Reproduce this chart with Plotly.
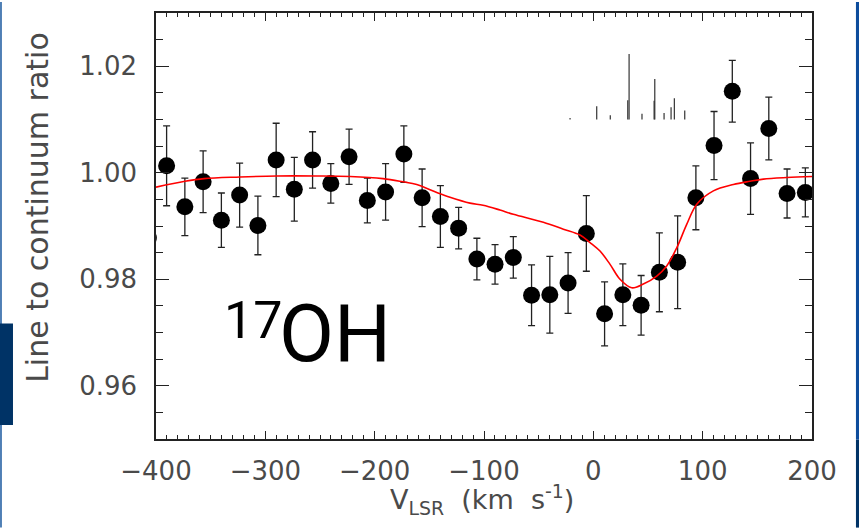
import plotly.graph_objects as go

# ---- data ----
velocity = [-407.0, -390.3, -373.6, -356.9, -340.2, -323.5, -306.8, -290.1, -273.5, -256.8,
            -240.1, -223.4, -206.7, -190.0, -173.3, -156.6, -139.9, -123.2, -106.5, -89.9,
            -73.2, -56.5, -39.8, -23.1, -6.4, 10.3, 27.0, 43.7, 60.4, 77.1,
            93.8, 110.4, 127.1, 143.8, 160.5, 177.2, 193.9]
ratio = [0.9878, 1.0013, 0.9936, 0.9983, 0.9911, 0.9958, 0.9901, 1.0024, 0.9969, 1.0024,
         0.9980, 1.0030, 0.9948, 0.9964, 1.0035, 0.9953, 0.9918, 0.9896, 0.9838, 0.9828,
         0.9841, 0.9770, 0.9771, 0.9793, 0.9886, 0.9735, 0.9771, 0.9751, 0.9813, 0.9832,
         0.9953, 1.0051, 1.0153, 0.9989, 1.0083, 0.9961, 0.9963]
ratio_err = [0.0060, 0.0075, 0.0054, 0.0058, 0.0051, 0.0060, 0.0055, 0.0069, 0.0060, 0.0053,
             0.0037, 0.0052, 0.0042, 0.0053, 0.0053, 0.0054, 0.0058, 0.0039, 0.0039, 0.0037,
             0.0039, 0.0057, 0.0072, 0.0057, 0.0071, 0.0060, 0.0058, 0.0056, 0.0074, 0.0087,
             0.0060, 0.0064, 0.0058, 0.0067, 0.0059, 0.0046, 0.0046]

model_velocity = [-400, -373.5, -356.1, -323.2, -289.6, -253.0, -222.5, -192.4, -174.1, -161.5,
                  -143.2, -131.1, -112.8, -100.9, -85.4, -73.2, -45.7, -27.4, -12.2, -3.0,
                  6.1, 15.3, 24.4, 35.1, 45.7, 58.0, 67.1, 76.3, 85.4, 94.6,
                  109.8, 128.1, 143.3, 155.5, 176.9, 200]
model_ratio = [0.9973, 0.9984, 0.9989, 0.9992, 0.9994, 0.9994, 0.9993, 0.9989, 0.9983, 0.9978,
               0.9963, 0.9954, 0.9943, 0.9939, 0.9930, 0.9922, 0.9907, 0.9894, 0.9883, 0.9869,
               0.9853, 0.9828, 0.9800, 0.9784, 0.9791, 0.9806, 0.9825, 0.9859, 0.9903, 0.9941,
               0.9966, 0.9978, 0.9984, 0.9988, 0.9991, 0.9993]

# hyperfine components (stick spectrum)
hfs_velocity = [-21.3, 3.1, 15.5, 31.5, 32.7, 44.5, 55.6, 56.2, 64.7, 71.1, 74.1, 83.6]
hfs_top = [1.0103, 1.0125, 1.0108, 1.0136, 1.0223, 1.0111, 1.0135, 1.0176, 1.0112, 1.0123, 1.0140, 1.0117]
hfs_base = 1.0100

x_ticks = [-400, -300, -200, -100, 0, 100, 200]
y_ticks = [0.96, 0.98, 1.00, 1.02]

# ---- build figure ----
stick_x, stick_y = [], []
for v, t in zip(hfs_velocity, hfs_top):
    stick_x += [v, v, None]
    stick_y += [hfs_base, t, None]

fig = go.Figure()
fig.add_trace(go.Scatter(x=stick_x, y=stick_y, mode="lines",
                         line=dict(color="#333333", width=1.2), hoverinfo="skip"))
fig.add_trace(go.Scatter(x=velocity, y=ratio, mode="markers",
                         marker=dict(color="black", size=17, line=dict(width=0)),
                         error_y=dict(type="data", array=ratio_err, color="#222222",
                                      thickness=1.3, width=3.5)))
fig.add_trace(go.Scatter(x=model_velocity, y=model_ratio, mode="lines",
                         line=dict(color="#ff0000", width=1.6, shape="spline")))

font_family = "DejaVu Sans"
x_tick_font = dict(family=font_family, size=26, color="#4a4a4a")
y_tick_font = dict(family=font_family, size=26, color="#4a4a4a")
fig.update_xaxes(range=[-400, 200], tickvals=x_ticks, ticks="inside", ticklen=8, tickwidth=1.3,
                 tickcolor="#222", showline=True, linecolor="#222", linewidth=1.5, mirror="ticks",
                 showgrid=False, zeroline=False, tickfont=x_tick_font, ticklabelstandoff=8,
                 minor=dict(dtick=10, ticks="inside", ticklen=4.5, tickwidth=1.1, tickcolor="#222",
                            showgrid=False))
fig.update_yaxes(range=[0.95, 1.03], tickvals=y_ticks, tickformat=".2f", ticks="inside", ticklen=13,
                 tickwidth=1.3, tickcolor="#222", showline=True, linecolor="#222", linewidth=1.5,
                 mirror="ticks", showgrid=False, zeroline=False, tickfont=y_tick_font,
                 ticklabelstandoff=12,
                 minor=dict(dtick=0.005, tick0=0.95, ticks="inside", ticklen=7, tickwidth=1.1,
                            tickcolor="#222", showgrid=False))

fig.add_annotation(text="V<sub>LSR</sub>&nbsp;&nbsp;(km&nbsp;&nbsp;s<sup>-1</sup>)",
                   xref="paper", yref="paper",
                   x=0.497, y=-0.142, xanchor="center", yanchor="middle", showarrow=False,
                   font=dict(family=font_family, size=27, color="#4a4a4a"))
fig.add_annotation(text="Line to continuum ratio", xref="paper", yref="paper",
                   x=-0.1805, y=0.544, xanchor="center", yanchor="middle", textangle=-90,
                   showarrow=False, font=dict(family=font_family, size=30, color="#4a4a4a"))
# species label: superscript mass number + molecule
fig.add_annotation(text="17", xref="paper", yref="paper",
                   x=0.1006, y=0.2777, xanchor="left", yanchor="middle", showarrow=False,
                   font=dict(family="Roboto", size=52, color="black"))
fig.add_annotation(text="OH", xref="paper", yref="paper",
                   x=0.1845, y=0.247, xanchor="left", yanchor="middle", showarrow=False,
                   font=dict(family="Roboto", size=80, color="black"))

# slide decorations at the edges
fig.add_shape(type="rect", xref="paper", yref="paper", x0=-0.2378, x1=-0.2348, y0=-0.208, y1=1.026,
              fillcolor="#4f7fb5", line=dict(width=0), layer="above")
fig.add_shape(type="rect", xref="paper", yref="paper", x0=-0.2378, x1=-0.2180, y0=0.033, y1=0.271,
              fillcolor="#003366", line=dict(width=0), layer="above")
fig.add_shape(type="rect", xref="paper", yref="paper", x0=1.067, x1=1.075, y0=-0.002, y1=1.026,
              fillcolor="#0d4c9c", line=dict(width=0), layer="above")
fig.add_shape(type="rect", xref="paper", yref="paper", x0=1.067, x1=1.075, y0=-0.208, y1=-0.002,
              fillcolor="#003366", line=dict(width=0), layer="above")

fig.update_layout(width=859, height=528, margin=dict(l=156, r=47, t=11, b=89),
                  paper_bgcolor="white", plot_bgcolor="white", showlegend=False)

fig.write_html("out.html", config={"displayModeBar": False},
               post_script="document.body.style.margin='0px';")
